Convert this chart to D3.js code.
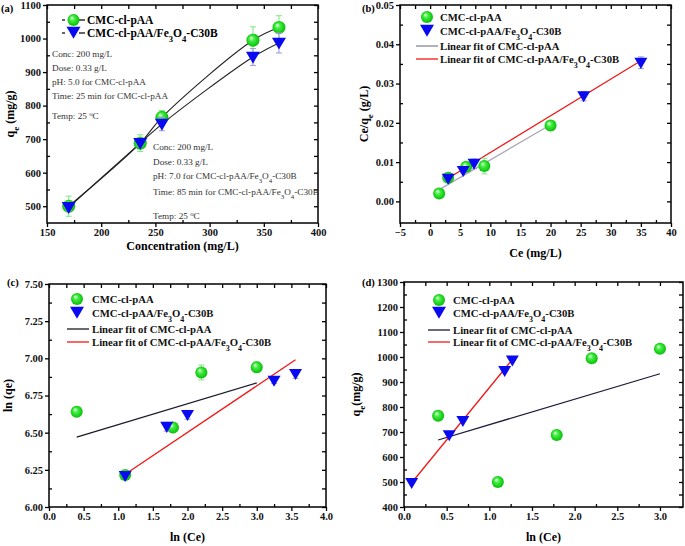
<!DOCTYPE html>
<html><head><meta charset="utf-8">
<script src="https://cdn.jsdelivr.net/npm/d3@7"></script>
<style>
body{margin:0;background:#fff;}
svg, svg text{font-family:"Liberation Serif","Times New Roman",serif;}
</style></head>
<body><svg id="c" width="685" height="546"></svg>
<script>
// ---------- DATA ----------
// (a) qe vs concentration
const concA = [170, 236, 256, 340, 364];
const qeA_cmc = [500, 688, 765, 995, 1033];
const errA_cmc = [30, 25, 20, 40, 35];
const qeA_fe = [497, 688, 745, 945, 987];
const errA_fe = [10, 10, 20, 25, 30];
// (b) Langmuir Ce/qe vs Ce
const ceB_cmc = [1.5, 3, 6, 9, 20];
const ratioB_cmc = [0.002, 0.006, 0.0088, 0.009, 0.0193];
const errB_cmc = [0.0003, 0.001, 0.0005, 0.002, 0.0012];
const ceB_fe = [3, 5.5, 7.3, 25.5, 35];
const ratioB_fe = [0.0058, 0.0078, 0.0096, 0.0268, 0.0353];
const errB_fe = [0.0004, 0.0005, 0.0012, 0.0012, 0.0015];
const fitB_cmc = [[1.5, 0.0030], [20, 0.0195]];
const fitB_fe = [[3, 0.0059], [35, 0.0358]];
// (c) Freundlich ln(qe) vs ln(Ce)
const lnCeC_cmc = [0.4, 1.1, 1.79, 2.2, 3.0];
const lnQeC_cmc = [6.64, 6.215, 6.535, 6.905, 6.94];
const errC_cmc = [0.01, 0.03, 0.02, 0.05, 0.035];
const lnCeC_fe = [1.1, 1.7, 2.0, 3.25, 3.56];
const lnQeC_fe = [6.21, 6.54, 6.62, 6.85, 6.895];
const errC_fe = [0.01, 0.03, 0.03, 0.02, 0.03];
const fitC_cmc = [[0.4, 6.47], [3.0, 6.835]];
const fitC_fe = [[1.1, 6.22], [3.56, 6.99]];
// (d) Temkin qe vs ln(Ce)
const lnCeD_cmc = [0.4, 1.1, 1.79, 2.2, 3.0];
const qeD_cmc = [765, 500, 688, 995, 1033];
const lnCeD_fe = [0.09, 0.53, 0.69, 1.18, 1.27];
const qeD_fe = [497, 688, 745, 945, 987];
const fitD_cmc = [[0.4, 668], [3.0, 933]];
const fitD_fe = [[0.09, 497], [1.27, 990]];

// tick values
const ticksAx = [150, 200, 250, 300, 350, 400];
const ticksAy = [500, 600, 700, 800, 900, 1000, 1100];
const ticksBx = [-5, 0, 5, 10, 15, 20, 25, 30, 35, 40];
const ticksBy = [0, 0.01, 0.02, 0.03, 0.04, 0.05];
const ticksCx = [0, 0.5, 1, 1.5, 2, 2.5, 3, 3.5, 4];
const ticksCy = [6, 6.25, 6.5, 6.75, 7, 7.25, 7.5];
const ticksDx = [0, 0.5, 1, 1.5, 2, 2.5, 3];
const ticksDy = [400, 500, 600, 700, 800, 900, 1000, 1100, 1200, 1300];

const FONT = "Liberation Serif, Times New Roman, serif";
const svg = d3.select("#c").attr("font-family", FONT);
const defs = svg.append("defs");
const grad = defs.append("radialGradient").attr("id", "sph").attr("cx", "50%").attr("cy", "50%").attr("r", "55%").attr("fx", "35%").attr("fy", "30%");
grad.append("stop").attr("offset", "0%").attr("stop-color", "#f4fff0");
grad.append("stop").attr("offset", "35%").attr("stop-color", "#44f044");
grad.append("stop").attr("offset", "100%").attr("stop-color", "#00b800");

const GREEN_ERR = "#7de87d", BLUE_ERR = "#9a9ad8";

function sphere(g, x, y, r) {
  g.append("circle").attr("cx", x).attr("cy", y).attr("r", r).attr("fill", "url(#sph)");
}
function tri(g, x, y, s) {
  g.append("path").attr("d", `M${x - s},${y - s * 0.75}L${x + s},${y - s * 0.75}L${x},${y + s * 0.95}Z`).attr("fill", "#0a0af0");
}
function subText(t, parts) {
  t.attr("font-family", FONT);
  parts.forEach(p => {
    const ts = t.append("tspan").text(p[0]);
    if (p[1] === "sub") ts.attr("baseline-shift", "sub").attr("font-size", "0.75em");
    if (p[1] === "sup") ts.attr("baseline-shift", "super").attr("font-size", "0.75em");
  });
}
const FE_NAME = [["CMC-cl-pAA/Fe", "n"], ["3", "sub"], ["O", "n"], ["4", "sub"], ["-C30B", "n"]];
const FIT_FE_NAME = [["Linear fit of CMC-cl-pAA/Fe", "n"], ["3", "sub"], ["O", "n"], ["4", "sub"], ["-C30B", "n"]];

function panel(cfg) {
  const x = d3.scaleLinear().domain(cfg.xd).range([cfg.x0, cfg.x1]);
  const y = d3.scaleLinear().domain(cfg.yd).range([cfg.y1, cfg.y0]);
  const g = svg.append("g");
  const fmtX = cfg.fx, fmtY = cfg.fy;
  const minX = [], minY = [];
  for (let i = 0; i < cfg.tx.length - 1; i++) minX.push((cfg.tx[i] + cfg.tx[i + 1]) / 2);
  for (let i = 0; i < cfg.ty.length - 1; i++) minY.push((cfg.ty[i] + cfg.ty[i + 1]) / 2);
  const axG = g.append("g").attr("font-weight", "bold");
  axG.append("g").attr("transform", `translate(0,${cfg.y1})`)
    .call(d3.axisBottom(x).tickValues(cfg.tx).tickFormat(fmtX).tickSize(4).tickSizeOuter(0).tickPadding(2));
  axG.append("g").attr("transform", `translate(0,${cfg.y1})`)
    .call(d3.axisBottom(x).tickValues(minX).tickFormat("").tickSize(-3).tickSizeOuter(0));
  axG.append("g").attr("transform", `translate(${cfg.x0},0)`)
    .call(d3.axisLeft(y).tickValues(cfg.ty).tickFormat(fmtY).tickSize(4).tickSizeOuter(0).tickPadding(2));
  axG.append("g").attr("transform", `translate(${cfg.x0},0)`)
    .call(d3.axisLeft(y).tickValues(minY).tickFormat("").tickSize(-3).tickSizeOuter(0));
  axG.append("g").attr("transform", `translate(0,${cfg.y0})`)
    .call(d3.axisTop(x).tickValues(cfg.tx.concat(minX)).tickFormat("").tickSize(-4).tickSizeOuter(0));
  axG.append("g").attr("transform", `translate(${cfg.x1},0)`)
    .call(d3.axisRight(y).tickValues(cfg.ty.concat(minY)).tickFormat("").tickSize(-4).tickSizeOuter(0));
  axG.selectAll("g").attr("font-family", FONT);
  axG.selectAll(".domain").remove();
  axG.selectAll(".tick line").attr("stroke", "#000").attr("stroke-width", 1.3);
  axG.selectAll("text").attr("font-size", 10.5).attr("font-family", FONT).attr("fill", "#111");
  g.append("rect").attr("x", cfg.x0).attr("y", cfg.y0).attr("width", cfg.x1 - cfg.x0).attr("height", cfg.y1 - cfg.y0)
    .attr("fill", "none").attr("stroke", "#000").attr("stroke-width", 1.5);
  g.append("text").attr("x", cfg.lx).attr("y", cfg.ly).attr("font-size", 10.5).attr("font-weight", "bold").attr("font-family", FONT).text(cfg.label);
  const xt = g.append("text").attr("x", (cfg.x0 + cfg.x1) / 2).attr("y", cfg.xty).attr("text-anchor", "middle")
    .attr("font-size", 12).attr("font-weight", "bold");
  subText(xt, cfg.xTitle);
  const yt = g.append("text").attr("transform", `translate(${cfg.ytx},${(cfg.y0 + cfg.y1) / 2}) rotate(-90)`)
    .attr("text-anchor", "middle").attr("font-size", 12).attr("font-weight", "bold");
  subText(yt, cfg.yTitle);
  return { g, x, y };
}

function errBars(g, x, y, xs, ys, es, color, cap) {
  xs.forEach((xv, i) => {
    if (!es || !es[i]) return;
    const X = x(xv), Y1 = y(ys[i] - es[i]), Y2 = y(ys[i] + es[i]);
    g.append("line").attr("x1", X).attr("x2", X).attr("y1", Y1).attr("y2", Y2).attr("stroke", color).attr("stroke-width", 1);
    [Y1, Y2].forEach(Y => g.append("line").attr("x1", X - cap).attr("x2", X + cap).attr("y1", Y).attr("y2", Y).attr("stroke", color).attr("stroke-width", 1));
  });
}
function fitLine(g, x, y, pts, color, w) {
  g.append("path").attr("d", d3.line().x(d => x(d[0])).y(d => y(d[1]))(pts)).attr("fill", "none").attr("stroke", color).attr("stroke-width", w);
}
function legendItem(g, kind, mx, yy, tx, parts, color) {
  if (kind === "sphere") sphere(g, mx, yy, 6);
  else if (kind === "tri") tri(g, mx, yy - 1, 7);
  else g.append("line").attr("x1", mx - 11).attr("x2", mx + 11).attr("y1", yy).attr("y2", yy).attr("stroke", color).attr("stroke-width", kind === "gray" ? 1.8 : 1.3);
  const t = g.append("text").attr("x", tx).attr("y", yy + 4).attr("font-size", 10.7).attr("font-weight", "bold").attr("fill", "#111");
  subText(t, parts);
}

// ---------- Panel (a) ----------
{
  const p = panel({ x0: 47, x1: 318, y0: 5, y1: 223, xd: [150, 400], yd: [450, 1100], tx: ticksAx, ty: ticksAy,
    fx: d3.format("d"), fy: d3.format("d"), label: "(a)", lx: 1, ly: 12, xty: 250, ytx: 14,
    xTitle: [["Concentration (mg/L)", "n"]], yTitle: [["q", "n"], ["e", "sub"], [" (mg/g)", "n"]] });
  const { g, x, y } = p;
  const ln = d3.line().x(d => x(d[0])).y(d => y(d[1])).curve(d3.curveCatmullRom.alpha(0.5));
  g.append("path").attr("d", ln(concA.map((c, i) => [c, qeA_cmc[i]]))).attr("fill", "none").attr("stroke", "#222").attr("stroke-width", 1.1);
  g.append("path").attr("d", ln(concA.map((c, i) => [c, qeA_fe[i]]))).attr("fill", "none").attr("stroke", "#222").attr("stroke-width", 1.1);
  errBars(g, x, y, concA, qeA_cmc, errA_cmc, GREEN_ERR, 3);
  concA.forEach((c, i) => sphere(g, x(c), y(qeA_cmc[i]), 6.5));
  errBars(g, x, y, concA, qeA_fe, errA_fe, BLUE_ERR, 3);
  concA.forEach((c, i) => tri(g, x(c), y(qeA_fe[i]), 7));
  [[20, "sphere", [["CMC-cl-pAA", "n"]]], [33, "tri", FE_NAME]].forEach(([yy, k, parts]) => {
    g.append("line").attr("x1", 62).attr("x2", 85).attr("y1", yy).attr("y2", yy).attr("stroke", "#111").attr("stroke-width", 1.3);
    g.append("rect").attr("x", 65).attr("y", yy - 3).attr("width", 14).attr("height", 6).attr("fill", "#fff");
    if (k === "sphere") sphere(g, 73.5, yy, 6); else tri(g, 73.5, yy - 1, 7);
    const t = g.append("text").attr("x", 87).attr("y", yy + 4).attr("font-size", 11.5).attr("font-weight", "bold");
    subText(t, parts);
  });
  const ann1 = [[57, [["Conc: 200 mg/L", "n"]]], [71, [["Dose: 0.33 g/L", "n"]]], [85, [["pH: 5.0 for CMC-cl-pAA", "n"]]],
    [99, [["Time: 25 min for CMC-cl-pAA", "n"]]], [119, [["Temp: 25 ", "n"], ["o", "sup"], ["C", "n"]]]];
  ann1.forEach(([yy, parts]) => { const t = g.append("text").attr("x", 52).attr("y", yy).attr("font-size", 9.2).attr("fill", "#333"); subText(t, parts); });
  const ann2 = [[150, [["Conc: 200 mg/L", "n"]]], [165, [["Dose: 0.33 g/L", "n"]]], [179, [["pH: 7.0 for CMC-cl-pAA/Fe", "n"], ["3", "sub"], ["O", "n"], ["4", "sub"], ["-C30B", "n"]]],
    [195, [["Time: 85 min for CMC-cl-pAA/Fe", "n"], ["3", "sub"], ["O", "n"], ["4", "sub"], ["-C30B", "n"]]], [219, [["Temp: 25 ", "n"], ["o", "sup"], ["C", "n"]]]];
  ann2.forEach(([yy, parts]) => { const t = g.append("text").attr("x", 153).attr("y", yy).attr("font-size", 9.2).attr("fill", "#333"); subText(t, parts); });
}

// ---------- Panel (b) ----------
{
  const p = panel({ x0: 400, x1: 671, y0: 5, y1: 223, xd: [-5, 40], yd: [-0.0055, 0.05], tx: ticksBx, ty: ticksBy,
    fx: d3.format("d"), fy: d3.format(".2f"), label: "(b)", lx: 362, ly: 12, xty: 257, ytx: 368,
    xTitle: [["Ce (mg/L)", "n"]], yTitle: [["Ce/q", "n"], ["e", "sub"], [" (g/L)", "n"]] });
  const { g, x, y } = p;
  fitLine(g, x, y, fitB_cmc, "#a8a8b8", 1.3);
  fitLine(g, x, y, fitB_fe, "#f01818", 1.3);
  errBars(g, x, y, ceB_cmc, ratioB_cmc, errB_cmc, GREEN_ERR, 3);
  ceB_cmc.forEach((c, i) => sphere(g, x(c), y(ratioB_cmc[i]), 6));
  errBars(g, x, y, ceB_fe, ratioB_fe, errB_fe, BLUE_ERR, 3);
  ceB_fe.forEach((c, i) => tri(g, x(c), y(ratioB_fe[i]), 6.5));
  legendItem(g, "sphere", 427, 17, 440, [["CMC-cl-pAA", "n"]]);
  legendItem(g, "tri", 427, 31, 440, FE_NAME);
  legendItem(g, "gray", 427, 46, 440, [["Linear fit of CMC-cl-pAA", "n"]], "#a8a8b8");
  legendItem(g, "red", 427, 59, 440, FIT_FE_NAME, "#f01818");
}

// ---------- Panel (c) ----------
{
  const p = panel({ x0: 49, x1: 326, y0: 284, y1: 507, xd: [0, 4], yd: [6, 7.5], tx: ticksCx, ty: ticksCy,
    fx: d3.format(".1f"), fy: d3.format(".2f"), label: "(c)", lx: 7, ly: 286, xty: 541, ytx: 12,
    xTitle: [["ln (Ce)", "n"]], yTitle: [["ln (qe)", "n"]] });
  const { g, x, y } = p;
  fitLine(g, x, y, fitC_cmc, "#1a1a2a", 1.3);
  fitLine(g, x, y, fitC_fe, "#f01818", 1.3);
  errBars(g, x, y, lnCeC_cmc, lnQeC_cmc, errC_cmc, GREEN_ERR, 3);
  lnCeC_cmc.forEach((c, i) => sphere(g, x(c), y(lnQeC_cmc[i]), 6));
  errBars(g, x, y, lnCeC_fe, lnQeC_fe, errC_fe, BLUE_ERR, 3);
  lnCeC_fe.forEach((c, i) => tri(g, x(c), y(lnQeC_fe[i]), 6.5));
  legendItem(g, "sphere", 77, 299, 92, [["CMC-cl-pAA", "n"]]);
  legendItem(g, "tri", 77, 313, 92, FE_NAME);
  legendItem(g, "black", 78, 329, 92, [["Linear fit of CMC-cl-pAA", "n"]], "#1a1a2a");
  legendItem(g, "red", 78, 342, 92, FIT_FE_NAME, "#f01818");
}

// ---------- Panel (d) ----------
{
  const p = panel({ x0: 404, x1: 683, y0: 282, y1: 507, xd: [0, 3.27], yd: [400, 1300], tx: ticksDx, ty: ticksDy,
    fx: d3.format(".1f"), fy: d3.format("d"), label: "(d)", lx: 362, ly: 286, xty: 541, ytx: 360,
    xTitle: [["ln (Ce)", "n"]], yTitle: [["q", "n"], ["e", "sub"], ["(mg/g)", "n"]] });
  const { g, x, y } = p;
  fitLine(g, x, y, fitD_cmc, "#1a1a3a", 1.3);
  fitLine(g, x, y, fitD_fe, "#f01818", 1.3);
  lnCeD_cmc.forEach((c, i) => sphere(g, x(c), y(qeD_cmc[i]), 6));
  lnCeD_fe.forEach((c, i) => tri(g, x(c), y(qeD_fe[i]), 6.5));
  legendItem(g, "sphere", 439, 300, 453, [["CMC-cl-pAA", "n"]]);
  legendItem(g, "tri", 439, 313, 453, FE_NAME);
  legendItem(g, "black", 439, 330, 453, [["Linear fit of CMC-cl-pAA", "n"]], "#1a1a3a");
  legendItem(g, "red", 439, 342, 453, FIT_FE_NAME, "#f01818");
}
</script></body></html>
